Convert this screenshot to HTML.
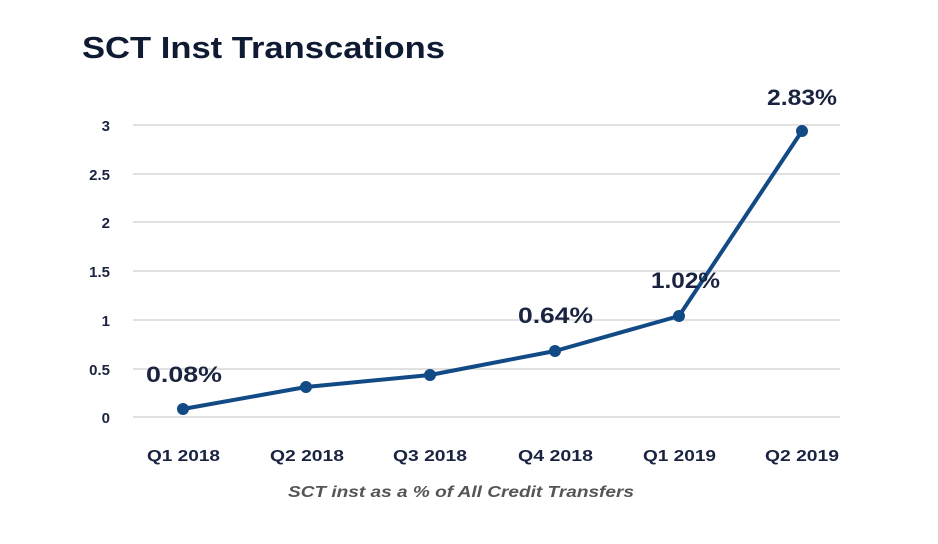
<!DOCTYPE html>
<html><head><meta charset="utf-8"><style>
body{margin:0;background:#fff;width:938px;height:539px;overflow:hidden}
svg text{font-family:"Liberation Sans",sans-serif;font-weight:bold}
</style></head><body>
<svg width="938" height="539" viewBox="0 0 938 539">
<text x="82" y="58" font-size="31" fill="#0f1a33" textLength="363" lengthAdjust="spacingAndGlyphs">SCT Inst Transcations</text>
<g stroke="#cfcfcf" stroke-width="1.2">
<line x1="133" x2="840" y1="125" y2="125"/>
<line x1="133" x2="840" y1="174" y2="174"/>
<line x1="133" x2="840" y1="222" y2="222"/>
<line x1="133" x2="840" y1="271" y2="271"/>
<line x1="133" x2="840" y1="320" y2="320"/>
<line x1="133" x2="840" y1="369" y2="369"/>
<line x1="133" x2="840" y1="417" y2="417"/>
</g>
<g font-size="15" fill="#1a2340" text-anchor="end">
<text x="110" y="131">3</text>
<text x="110" y="180">2.5</text>
<text x="110" y="228">2</text>
<text x="110" y="277">1.5</text>
<text x="110" y="326">1</text>
<text x="110" y="375">0.5</text>
<text x="110" y="423">0</text>
</g>
<polyline fill="none" stroke="#124a86" stroke-width="4" stroke-linejoin="round" points="183,409 306,387 430,375 555,351 679,316 802,131"/>
<g fill="#124a86">
<circle cx="183" cy="409" r="6"/><circle cx="306" cy="387" r="6"/><circle cx="430" cy="375" r="6"/>
<circle cx="555" cy="351" r="6"/><circle cx="679" cy="316" r="6"/><circle cx="802" cy="131" r="6"/>
</g>
<g font-size="22" fill="#1a2340">
<text x="146" y="382" textLength="76" lengthAdjust="spacingAndGlyphs">0.08%</text>
<text x="518" y="323" textLength="75" lengthAdjust="spacingAndGlyphs">0.64%</text>
<text x="651" y="288" textLength="69" lengthAdjust="spacingAndGlyphs">1.02%</text>
<text x="767" y="105" textLength="70" lengthAdjust="spacingAndGlyphs">2.83%</text>
</g>
<g font-size="16" fill="#1a2340">
<text x="147" y="461" textLength="73" lengthAdjust="spacingAndGlyphs">Q1 2018</text>
<text x="270" y="461" textLength="74" lengthAdjust="spacingAndGlyphs">Q2 2018</text>
<text x="393" y="461" textLength="74" lengthAdjust="spacingAndGlyphs">Q3 2018</text>
<text x="518" y="461" textLength="75" lengthAdjust="spacingAndGlyphs">Q4 2018</text>
<text x="643" y="461" textLength="73" lengthAdjust="spacingAndGlyphs">Q1 2019</text>
<text x="765" y="461" textLength="74" lengthAdjust="spacingAndGlyphs">Q2 2019</text>
</g>
<text x="288" y="497" font-size="16" font-style="italic" fill="#555" textLength="346" lengthAdjust="spacingAndGlyphs">SCT inst as a % of All Credit Transfers</text>
</svg>
</body></html>
